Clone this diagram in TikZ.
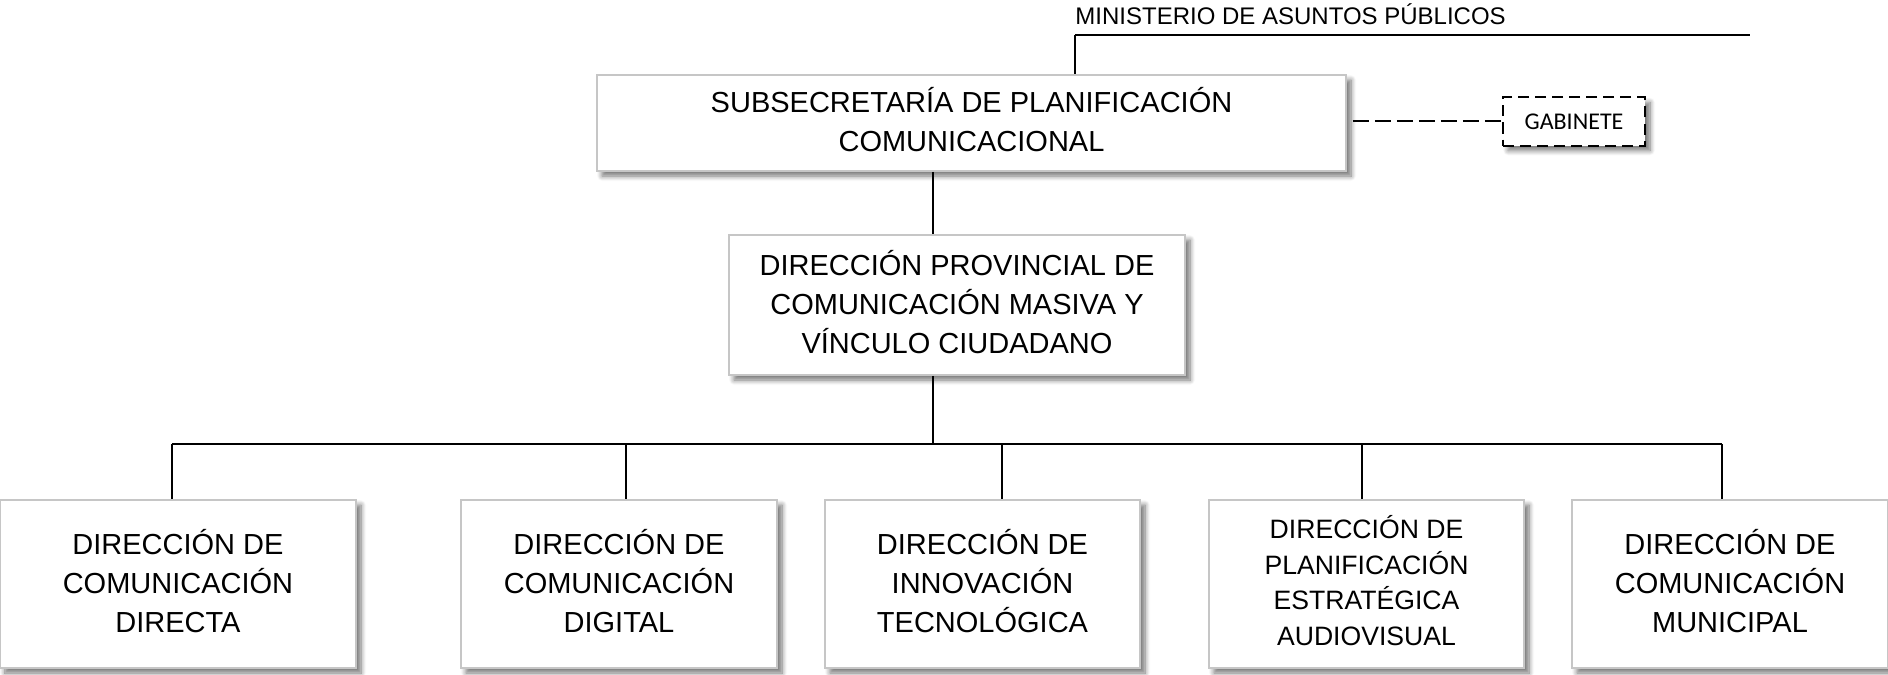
\documentclass[tikz,border=0pt]{standalone}
\usepackage{fontspec}
\setmainfont{Liberation Sans}
\newfontfamily\gabfont{Carlito}
\usetikzlibrary{shadows.blur}

\begin{document}
\begin{tikzpicture}[x=0.5pt,y=-0.5pt,
    boxshadow/.style = {blur shadow={shadow xshift=2.5pt, shadow yshift=-2.5pt,
        shadow blur radius=2.5pt, shadow blur steps=8, shadow opacity=55}},
    unit/.style = {draw=gray!45, line width=0.8pt, fill=white, align=center,
        font=\fontsize{14.5}{19.5}\selectfont, inner sep=2pt, text depth=3.5pt, boxshadow},
    small/.style = {font=\fontsize{13.3}{17.8}\selectfont},
    dir/.style = {unit, minimum width=158pt, minimum height=84pt},
    link/.style = {line width=0.75pt},
    dashlink/.style = {draw=black, line width=1pt, dash pattern=on 8pt off 3pt}]
\useasboundingbox (0,0) rectangle (1888,674);

\node[anchor=west, inner sep=0pt, font=\fontsize{12}{14}\selectfont] (mini) at (1075,14.5) {MINISTERIO DE ASUNTOS PÚBLICOS};
\coordinate (top) at (1075,35);
\coordinate (topend) at (1750,35);

\node[unit, minimum width=374.5pt, minimum height=48pt] (subs) at (971.5,123)
    {SUBSECRETARÍA DE PLANIFICACIÓN\\COMUNICACIONAL};
\node[draw=black, line width=1pt, dash pattern=on 5.5pt off 3pt, fill=white,
    minimum width=71pt, minimum height=24pt, boxshadow,
    font=\gabfont\fontsize{12}{14}\selectfont] (gab) at (1574,121.5) {GABINETE};
\node[unit, minimum width=228pt, minimum height=70pt] (prov) at (957,305)
    {DIRECCIÓN PROVINCIAL DE\\COMUNICACIÓN MASIVA Y\\VÍNCULO CIUDADANO};

\node[dir, minimum width=178pt] (d1) at (178,584) {DIRECCIÓN DE\\COMUNICACIÓN\\DIRECTA};
\node[dir] (d2) at (619,584) {DIRECCIÓN DE\\COMUNICACIÓN\\DIGITAL};
\node[dir, minimum width=157.5pt] (d3) at (982.5,584) {DIRECCIÓN DE\\INNOVACIÓN\\TECNOLÓGICA};
\node[dir, small, minimum width=157.5pt] (d4) at (1366.5,584) {DIRECCIÓN DE\\PLANIFICACIÓN\\ESTRATÉGICA\\AUDIOVISUAL};
\node[dir] (d5) at (1730,584) {DIRECCIÓN DE\\COMUNICACIÓN\\MUNICIPAL};

\coordinate (spine) at (933,444);
\coordinate (b1) at (172,444);
\coordinate (b2) at (626,444);
\coordinate (b3) at (1002,444);
\coordinate (b4) at (1362,444);
\coordinate (b5) at (1722,444);

\draw[line width=1pt] (top) -- (topend);
\draw[link] (top) -- (top |- subs.north);
\draw[dashlink, shorten <=3pt] (subs.east |- gab.west) -- (gab.west);
\draw[link] (spine |- subs.south) -- (spine |- prov.north);
\draw[link] (spine |- prov.south) -- (spine);
\draw[link] (b1) -- (b5);
\foreach \i in {1,...,5}
    \draw[link] (b\i) -- (b\i |- d\i.north);
\end{tikzpicture}
\end{document}
